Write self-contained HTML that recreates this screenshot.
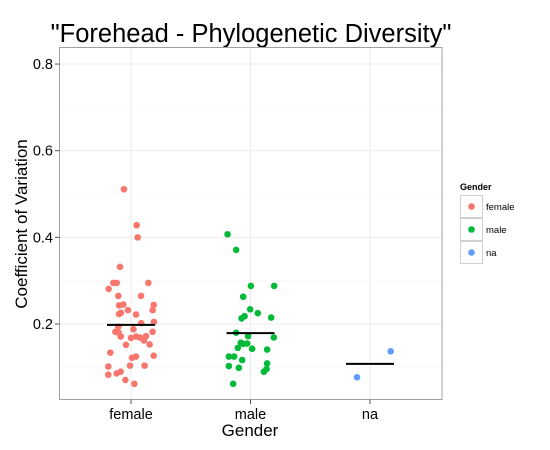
<!DOCTYPE html>
<html><head><meta charset="utf-8"><style>
body{margin:0;background:#fff;}
svg{display:block;font-family:"Liberation Sans",Arial,sans-serif;}
</style></head><body>
<svg id="chart" width="550" height="450" viewBox="0 0 550 450">
<rect x="0" y="0" width="550" height="450" fill="#fff"/>
<text x="251" y="42" text-anchor="middle" font-size="25.5" fill="#000">"Forehead - Phylogenetic Diversity"</text>
<g id="grid"></g>
<rect x="59.5" y="47.5" width="382.5" height="352" fill="none" stroke="#a0a0a0" stroke-width="1"/>
<g id="marks"></g>
<g id="axes"></g>
<text x="250" y="436" text-anchor="middle" font-size="17" fill="#000">Gender</text>
<text transform="translate(27,224) rotate(-90)" text-anchor="middle" font-size="17" fill="#000">Coefficient of Variation</text>
<g id="legend">
<text x="460" y="190" font-size="9" font-weight="bold">Gender</text>
</g>
</svg>
<script>
const categories = ["female","male","na"];
const colors = ["#F8766D","#00BA38","#619CFF"];
const femaleValues = [0.511,0.428,0.400,0.332,0.295,0.295,0.281,0.295,0.265,0.265,0.243,0.245,0.232,0.244,0.232,0.223,0.226,0.222,0.205,0.202,0.194,0.188,0.182,0.180,0.182,0.171,0.168,0.171,0.169,0.172,0.162,0.152,0.153,0.134,0.122,0.125,0.127,0.102,0.104,0.104,0.083,0.086,0.090,0.071,0.062];
const femaleJitter = [-0.059,0.047,0.056,-0.092,-0.148,-0.12,-0.187,0.145,-0.106,0.084,-0.1,-0.064,-0.025,0.19,0.181,-0.1,-0.084,0.042,0.192,0.086,-0.106,0.02,-0.131,-0.103,0.181,-0.086,0,0.042,0.075,0.126,0.109,-0.042,0.156,-0.173,0.008,0.042,0.19,-0.19,-0.008,0.114,-0.19,-0.12,-0.086,-0.047,0.028];
const maleValues = [0.407,0.371,0.288,0.288,0.263,0.234,0.225,0.218,0.213,0.215,0.180,0.172,0.169,0.157,0.154,0.155,0.145,0.143,0.141,0.125,0.125,0.117,0.103,0.099,0.109,0.096,0.090,0.062];
const maleJitter = [-0.192,-0.12,0.003,0.198,-0.061,-0.003,0.061,-0.05,-0.075,0.173,-0.12,-0.02,0.195,-0.081,-0.061,-0.028,-0.106,0.014,0.139,-0.181,-0.137,-0.07,-0.181,-0.098,0.139,0.134,0.112,-0.145];
const naValues = [0.077,0.137];
const naJitter = [-0.109,0.173];
const means = [0.198,0.179,0.108];
const yTicks = [0.2,0.4,0.6,0.8];
const yMinor = [0.1,0.3,0.5,0.7];

const NS="http://www.w3.org/2000/svg";
function y(v){return 410.7 - v*433.33;}
function x(i){return 131 + i*119.5;}
function mk(tag,attrs,parent){const e=document.createElementNS(NS,tag);for(const k in attrs)e.setAttribute(k,attrs[k]);parent.appendChild(e);return e;}
const grid=document.getElementById('grid'),marks=document.getElementById('marks'),axes=document.getElementById('axes'),legend=document.getElementById('legend');
yMinor.forEach(v=>{const l=mk('line',{x1:59.5,x2:442,y1:y(v),y2:y(v),stroke:'#f5f5f5','stroke-width':0.6},grid);

});
yTicks.forEach(v=>{const l=mk('line',{x1:59.5,x2:442,y1:y(v),y2:y(v),stroke:'#ebebeb','stroke-width':1},grid);


const t=mk('line',{x1:55,x2:59.5,y1:y(v),y2:y(v),stroke:'#555'},axes);


const tx=mk('text',{x:53,y:y(v)+5,'text-anchor':'end','font-size':14.5,fill:'#000'},axes);tx.textContent=v.toFixed(1);

});
categories.forEach((c,i)=>{const l=mk('line',{x1:x(i),x2:x(i),y1:47.5,y2:399.5,stroke:'#ebebeb','stroke-width':1},grid);


const t=mk('line',{x1:x(i),x2:x(i),y1:399.5,y2:404,stroke:'#555'},axes);


const tx=mk('text',{x:x(i),y:419,'text-anchor':'middle','font-size':14.5,fill:'#000'},axes);tx.textContent=c;

});
const series=[[femaleValues,femaleJitter],[maleValues,maleJitter],[naValues,naJitter]];
series.forEach((s,i)=>{s[0].forEach((v,j)=>{const p=mk('circle',{cx:x(i+s[1][j]),cy:y(v),r:3.3,fill:colors[i]},marks);

});});
means.forEach((m,i)=>{const l=mk('line',{x1:x(i)-24,x2:x(i)+24,y1:y(m),y2:y(m),stroke:'#000','stroke-width':2},marks);

});
categories.forEach((c,i)=>{const yy=195+i*23;
const b=mk('rect',{x:460.5,y:yy+0.5,width:22,height:22,fill:'#fff',stroke:'#d0d0d0'},legend);


const d=mk('circle',{cx:471.5,cy:yy+11.5,r:3.3,fill:colors[i]},legend);


const t=mk('text',{x:486,y:yy+15,'font-size':9.5,fill:'#000'},legend);t.textContent=c;

});
</script>
</body></html>
